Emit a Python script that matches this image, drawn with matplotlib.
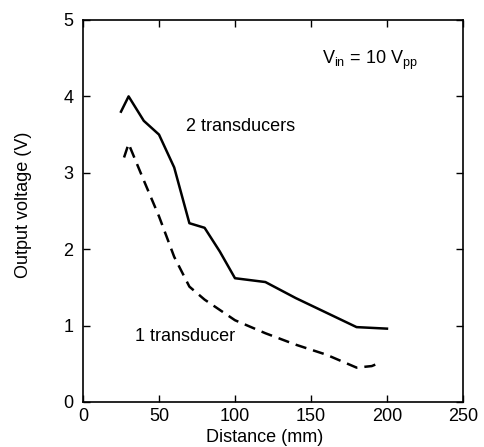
import matplotlib
matplotlib.use("Agg")
import matplotlib.pyplot as plt

plt.rcParams['font.family'] = ['Liberation Sans', 'DejaVu Sans']

# distance (mm) and output voltage (V)
dist_two = [25, 30, 40, 50, 60, 70, 80, 90, 100, 120, 140, 160, 180, 190, 200]
volt_two = [3.80, 4.00, 3.68, 3.50, 3.07, 2.34, 2.28, 1.97, 1.62, 1.57, 1.36, 1.17, 0.98, 0.97, 0.96]

dist_one = [27, 30, 40, 50, 60, 70, 80, 100, 120, 140, 160, 180, 190, 196]
volt_one = [3.20, 3.38, 2.90, 2.43, 1.90, 1.51, 1.34, 1.07, 0.90, 0.75, 0.62, 0.45, 0.47, 0.52]

fs = 13

fig = plt.figure(figsize=(4.84, 4.47), dpi=100)
ax = fig.add_axes([0.1715, 0.1007, 0.785, 0.8546])

ax.plot(dist_two, volt_two, color='black', lw=1.8)
ax.plot(dist_one, volt_one, color='black', lw=1.8, dashes=(4.5, 2.8))

ax.set_xlim(0, 250)
ax.set_ylim(0, 5)
ax.set_xticks([0, 50, 100, 150, 200, 250])
ax.set_yticks([0, 1, 2, 3, 4, 5])
ax.tick_params(direction='in', length=5, width=1, top=True, right=True,
               labelsize=fs)
ax.tick_params(axis='x', pad=4.5)
ax.tick_params(axis='y', pad=7)
for s in ax.spines.values():
    s.set_linewidth(1.2)

ax.set_xlabel('Distance (mm)', fontsize=fs)
ax.set_ylabel('Output voltage (V)', fontsize=fs)
ax.xaxis.set_label_coords(0.479, -0.072)
ax.yaxis.set_label_coords(-0.135, 0.516)

ax.text(104, 3.60, '2 transducers', fontsize=fs, ha='center', va='center')
ax.text(67, 0.86, '1 transducer', fontsize=fs, ha='center', va='center')
ax.text(189, 4.47, r'V$_{\mathregular{in}}$ = 10 V$_{\mathregular{pp}}$', fontsize=fs,
        ha='center', va='center')

fig.savefig('out.png', dpi=100)
